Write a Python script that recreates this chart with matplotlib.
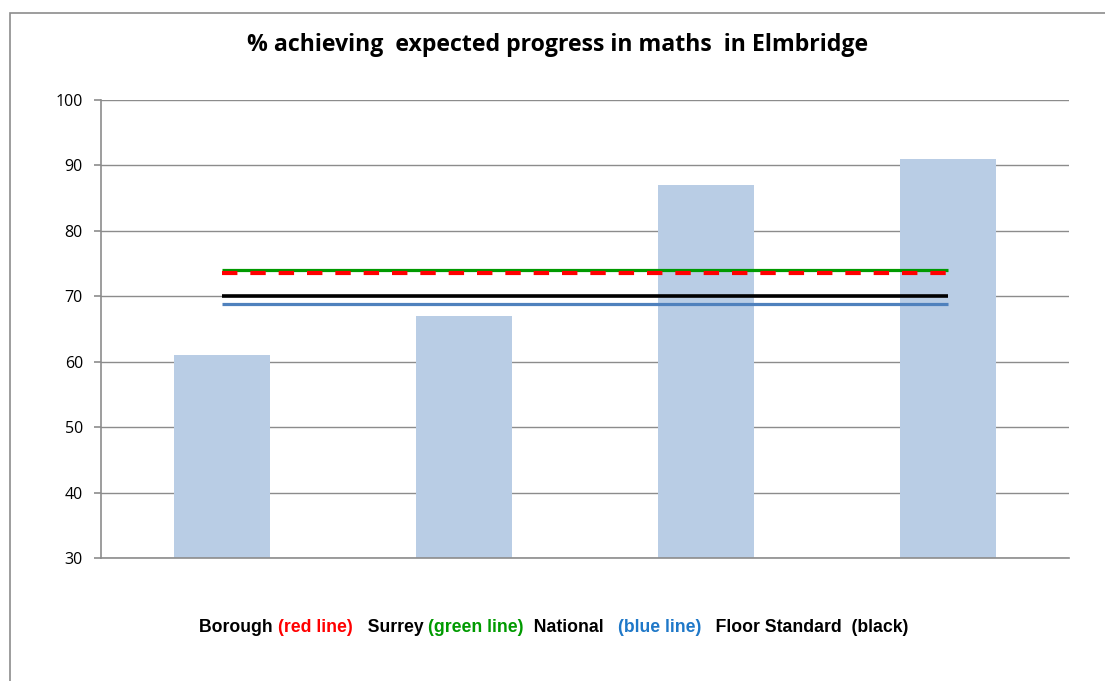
import matplotlib.pyplot as plt
from matplotlib.patches import Rectangle
from matplotlib.offsetbox import TextArea, HPacker, AnchoredOffsetbox

# data
schools = ["A", "B", "C", "D"]
pct_expected = [61, 67, 87, 91]
borough = 73.6
surrey = 74.0
national = 68.8
floor_standard = 70

legend_parts = [
    ("Borough ", "black"), ("(red line)", "#FF0000"), ("   Surrey ", "black"),
    ("(green line)", "#009A00"), ("  National   ", "black"), ("(blue line)", "#1F78C8"),
    ("   Floor Standard  (black)", "black"),
]

fig = plt.figure(figsize=(11.05, 6.81), dpi=100)
ax = fig.add_axes([101 / 1105, 1 - 558 / 681, 968 / 1105, 458 / 681])

x = list(range(len(schools)))
ax.bar(x, pct_expected, width=0.395, color="#B9CDE5", zorder=2)

x0, x1 = x[0], x[-1]
ax.hlines(surrey, x0, x1, color="#009A00", lw=2.3, zorder=3)
ax.hlines(borough, x0, x1, color="#FF0000", lw=3.0, linestyles=(0, (3.7, 3.1)), zorder=4)
ax.hlines(floor_standard, x0, x1, color="black", lw=2.6, zorder=3)
ax.hlines(national, x0, x1, color="#4F81BD", lw=2.3, zorder=3)

ax.set_xlim(-0.5, 3.5)
ax.set_ylim(30, 100)
ax.set_yticks(range(30, 101, 10))
ax.set_xticks([])
ax.yaxis.grid(True, color="#8C8C8C", lw=1.0, zorder=0)
ax.set_axisbelow(True)
for side in ["top", "right"]:
    ax.spines[side].set_visible(False)
ax.spines["left"].set_color("#8C8C8C")
ax.spines["bottom"].set_color("#8C8C8C")
ax.spines["left"].set_linewidth(1.2)
ax.spines["bottom"].set_linewidth(1.2)
ax.tick_params(axis="y", length=5, color="#8C8C8C", width=1.2, labelsize=11.5, pad=8)
for lbl in ax.get_yticklabels():
    lbl.set_family("Open Sans")

fig.text(558 / 1105, 1 - 45 / 681, "% achieving  expected progress in maths  in Elmbridge",
         ha="center", va="center", fontsize=16.7, fontweight="bold", family="Open Sans")

# legend as coloured pieces of text
boxes = [TextArea(t, textprops=dict(color=c, fontsize=12.7, fontweight="bold",
                                    family="Liberation Sans")) for t, c in legend_parts]
row = HPacker(children=boxes, align="baseline", pad=0, sep=0)
anchored = AnchoredOffsetbox(loc="center", child=row, frameon=False,
                             bbox_to_anchor=(554 / 1105, 1 - 628 / 681),
                             bbox_transform=fig.transFigure, borderpad=0, pad=0)
fig.add_artist(anchored)

# outer chart frame
fig.add_artist(Rectangle((10 / 1105, -0.1), 1.2, 1 - 13 / 681 + 0.1,
                         transform=fig.transFigure, fill=False,
                         edgecolor="#8C8C8C", lw=1.2))

fig.savefig("out.png", dpi=100)
